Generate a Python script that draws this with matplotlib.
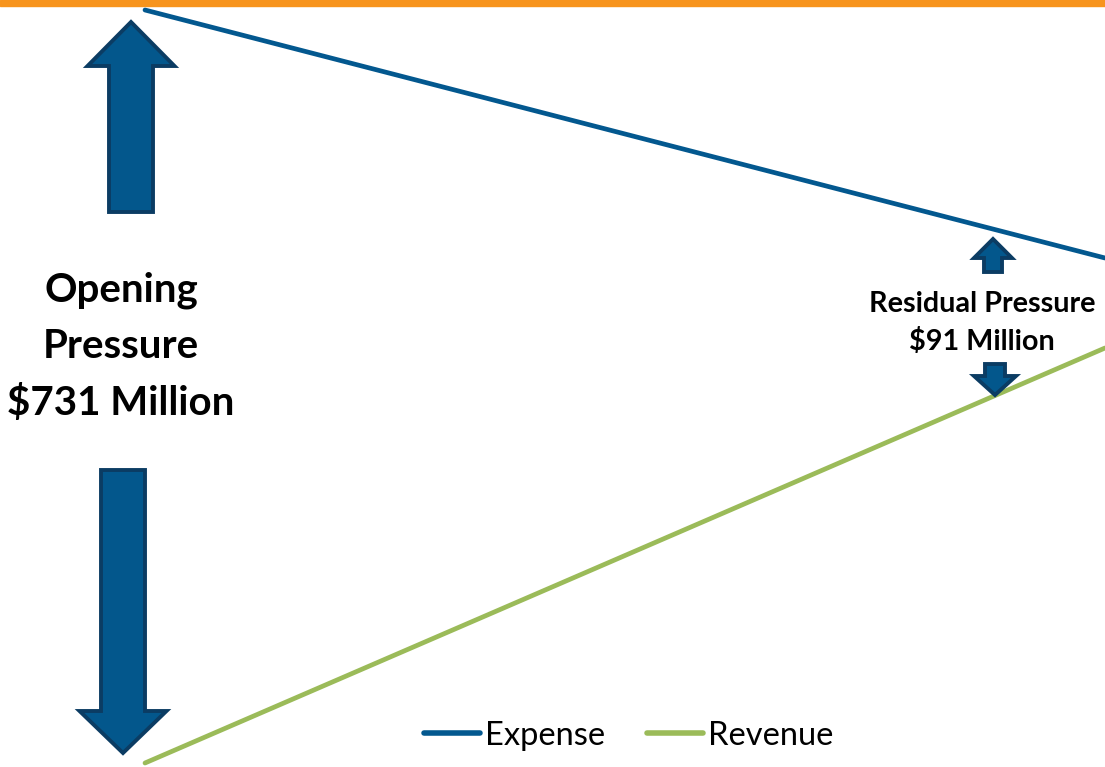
import matplotlib.pyplot as plt
from matplotlib.patches import FancyArrow

# schematic positions (px-like units, y measured from bottom)
period = [0, 960]
expense = [757, 509]
revenue = [4, 419]
labels = ['Expense', 'Revenue']
opening_text = 'Opening\nPressure\n\\$731 Million'
residual_text = 'Residual Pressure\n\\$91 Million'

blue = '#03588F'
green = '#9BBB59'
arrow_fill = '#03578C'
arrow_edge = '#0B3C63'

fig = plt.figure(figsize=(11.05, 7.67), dpi=100)
ax = fig.add_axes([0, 0, 1, 1])
ax.set_xlim(-145, 960)
ax.set_ylim(0, 767)
ax.axis('off')

# orange band at the top
ax.axhspan(761, 767, color='#F7941D', zorder=1)

ax.plot(period, expense, color=blue, lw=3.4, solid_capstyle='round', label=labels[0], zorder=3)
ax.plot(period, revenue, color=green, lw=3.4, solid_capstyle='round', label=labels[1], zorder=3)

def arrow(x, y0, y1, w, hw, hl):
    a = FancyArrow(x, y0, 0, y1 - y0, width=w, head_width=hw, head_length=hl,
                   length_includes_head=True, facecolor=arrow_fill,
                   edgecolor=arrow_edge, linewidth=2.8, zorder=4)
    ax.add_patch(a)

arrow(-14, 555, 745, 44, 87, 44)
arrow(-22, 297, 14, 44, 87, 42)
arrow(848, 495, 528, 18, 38, 19)
arrow(850, 403, 372, 20, 42, 19)

ax.text(-24, 420, opening_text, ha='center', va='center', fontsize=29,
        fontweight='bold', family='Lato', linespacing=1.62)
ax.text(837, 444, residual_text, ha='center', va='center', fontsize=20.7,
        fontweight='bold', family='Lato', linespacing=1.5)

leg = ax.legend(loc='center', bbox_to_anchor=(0.569, 0.041), ncol=2, frameon=False,
                prop={'family': 'Lato', 'size': 23.5}, handlelength=1.7,
                handletextpad=0.15, columnspacing=1.3)
for h in leg.get_lines():
    h.set_linewidth(4)

fig.savefig('out.png', dpi=100)
